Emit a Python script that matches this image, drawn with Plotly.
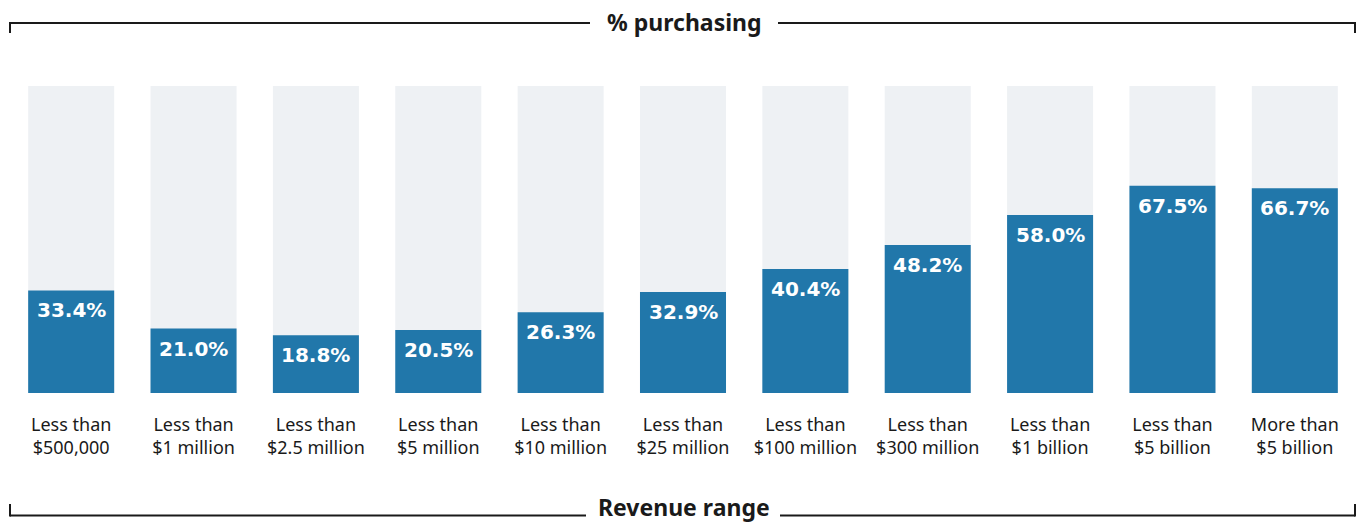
import plotly.graph_objects as go

categories = ["Less than<br>$500,000", "Less than<br>$1 million", "Less than<br>$2.5 million",
              "Less than<br>$5 million", "Less than<br>$10 million", "Less than<br>$25 million",
              "Less than<br>$100 million", "Less than<br>$300 million", "Less than<br>$1 billion",
              "Less than<br>$5 billion", "More than<br>$5 billion"]
values = [33.4, 21.0, 18.8, 20.5, 26.3, 32.9, 40.4, 48.2, 58.0, 67.5, 66.7]
full = [100] * len(values)

W, H = 1362, 524
L, R, T, B = 10, 6, 86, 131
pw = W - L - R
ph = H - T - B

def px(x):
    return (x - L) / pw

def py(y):
    return (H - B - y) / ph

BLUE = "#2177aa"
GRAY = "#eef1f4"
INK = "#1a1a1a"

fig = go.Figure()
fig.add_trace(go.Bar(x=categories, y=full, marker=dict(color=GRAY, line=dict(width=0)),
                     hoverinfo="skip", showlegend=False))
fig.add_trace(go.Bar(x=categories, y=values, marker=dict(color=BLUE, line=dict(width=0)),
                     showlegend=False))

for c, v in zip(categories, values):
    fig.add_annotation(x=c, y=v, text=f"<b>{v:.1f}%</b>", showarrow=False,
                       yanchor="top", yshift=-6,
                       font=dict(family="DejaVu Sans", size=20, color="white"))

lw = 2
shapes = []
# top bracket
shapes += [
    dict(type="line", xref="paper", yref="paper", x0=0, x1=px(590), y0=py(23), y1=py(23)),
    dict(type="line", xref="paper", yref="paper", x0=px(778), x1=px(1355), y0=py(23), y1=py(23)),
    dict(type="line", xref="paper", yref="paper", x0=0, x1=0, y0=py(22), y1=py(33)),
    dict(type="line", xref="paper", yref="paper", x0=px(1355), x1=px(1355), y0=py(22), y1=py(33)),
]
# bottom bracket
shapes += [
    dict(type="line", xref="paper", yref="paper", x0=0, x1=px(586), y0=py(515.5), y1=py(515.5)),
    dict(type="line", xref="paper", yref="paper", x0=px(780), x1=px(1355), y0=py(515.5), y1=py(515.5)),
    dict(type="line", xref="paper", yref="paper", x0=0, x1=0, y0=py(516.5), y1=py(504)),
    dict(type="line", xref="paper", yref="paper", x0=px(1355), x1=px(1355), y0=py(516.5), y1=py(504)),
]
for s in shapes:
    s["line"] = dict(color=INK, width=lw)
fig.update_layout(shapes=shapes)

fig.add_annotation(xref="paper", yref="paper", x=px(684), y=py(22), text="<b>% purchasing</b>",
                   showarrow=False, yanchor="middle",
                   font=dict(family="Noto Sans", size=23, color=INK))
fig.add_annotation(xref="paper", yref="paper", x=px(684), y=py(524), text="<b>Revenue range</b>",
                   showarrow=False, yanchor="bottom", borderpad=0,
                   font=dict(family="Noto Sans", size=23, color=INK))

fig.update_layout(
    width=W, height=H,
    margin=dict(l=L, r=R, t=T, b=B),
    barmode="overlay",
    bargap=0.297,
    plot_bgcolor="white", paper_bgcolor="white",
    xaxis=dict(showgrid=False, zeroline=False, showline=False, ticks="",
               tickfont=dict(family="Noto Sans", size=18, color=INK),
               ticklabelstandoff=19, range=[-0.5, 10.5]),
    yaxis=dict(range=[0, 100], visible=False),
)

fig.write_html("out.html")
